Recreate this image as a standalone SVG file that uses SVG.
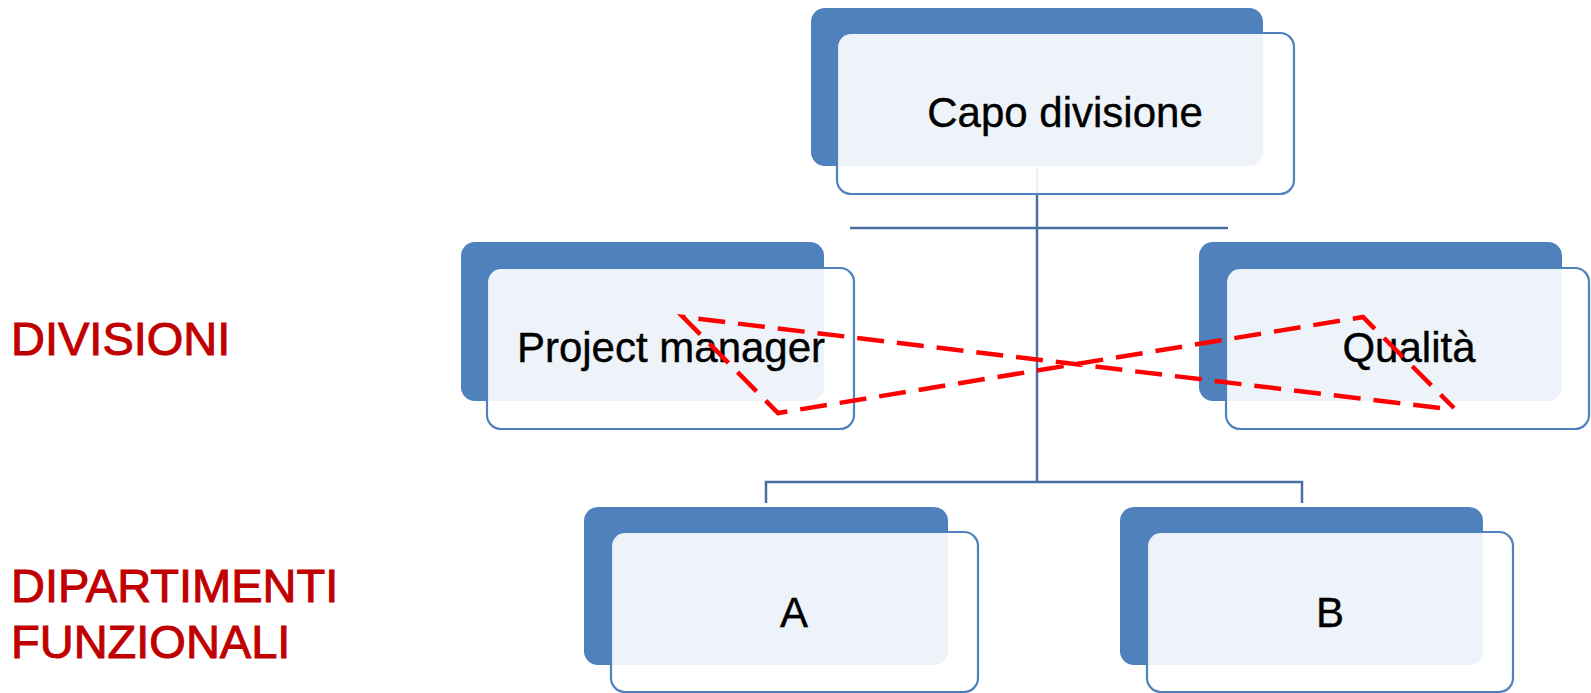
<svg xmlns="http://www.w3.org/2000/svg" width="1591" height="693" viewBox="0 0 1591 693">
<style>
.back{fill:#4F81BD}
.front{fill:#FFFFFF;fill-opacity:0.9;stroke:#4F81BD;stroke-width:2.2}
.lbl{font-family:"Liberation Sans",Arial,sans-serif;font-size:42px;fill:#000;stroke:#000;stroke-width:0.4;text-anchor:middle}
.side{font-family:"Liberation Sans",Arial,sans-serif;font-size:47px;fill:#C00000;stroke:#C00000;stroke-width:1}
.conn{fill:none;stroke:#4A6FA5;stroke-width:2.5}
.dash{fill:none;stroke:#FF0000;stroke-width:4.5;stroke-dasharray:27 13}
</style>
<rect width="1591" height="693" fill="#FFFFFF"/>
<g id="connectors">
<path class="conn" d="M1037,168 V482 M766,503 V482 H1302 V503"/>
<path class="conn" d="M850,228 H1228"/>
</g>
<g id="capo">
<rect class="back" x="811" y="8" width="452" height="158" rx="14"/>
<rect class="front" x="837" y="33" width="457" height="161" rx="14"/>
<text class="lbl" x="1065" y="127">Capo divisione</text>
</g>
<g id="pm">
<rect class="back" x="461" y="242" width="363" height="159" rx="14"/>
<rect class="front" x="487" y="268" width="367" height="161" rx="14"/>
<text class="lbl" x="671" y="362">Project manager</text>
</g>
<g id="qualita">
<rect class="back" x="1199" y="242" width="363" height="159" rx="14"/>
<rect class="front" x="1226" y="268" width="363" height="161" rx="14"/>
<text class="lbl" x="1409" y="362">Qualità</text>
</g>
<g id="a">
<rect class="back" x="584" y="507" width="364" height="158" rx="14"/>
<rect class="front" x="611" y="532" width="367" height="160" rx="14"/>
<text class="lbl" x="794" y="627">A</text>
</g>
<g id="b">
<rect class="back" x="1120" y="507" width="363" height="158" rx="14"/>
<rect class="front" x="1147" y="532" width="366" height="160" rx="14"/>
<text class="lbl" x="1330" y="627">B</text>
</g>
<g id="dashed">
<path class="dash" d="M1440,408 L683,317 L778,413 L1363,317 L1454,408"/>
</g>
<g id="labels">
<text class="side" x="11" y="355">DIVISIONI</text>
<text class="side" x="11" y="602">DIPARTIMENTI</text>
<text class="side" x="11" y="658">FUNZIONALI</text>
</g>
</svg>
